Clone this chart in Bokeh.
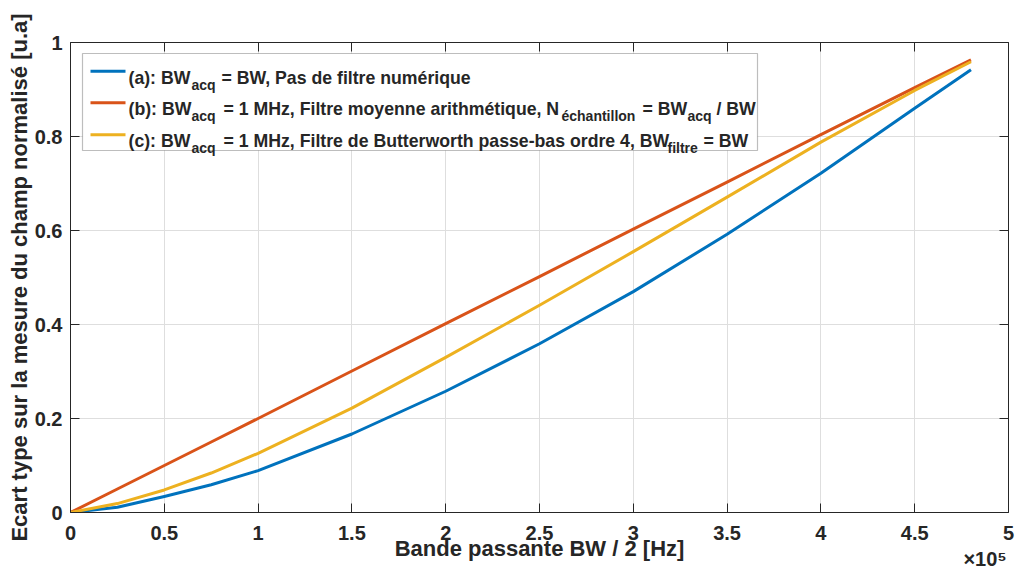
from bokeh.plotting import figure
from bokeh.models import (Range1d, LinearAxis, FixedTicker, Label, BoxAnnotation,
                          CustomJSTickFormatter)
from bokeh.embed import file_html
from bokeh.resources import INLINE

# ---------------- data ----------------
bw_hz = [0, 25000, 50000, 75000, 100000, 150000, 200000, 250000, 300000,
         350000, 400000, 450000, 480000]
std_a = [0, 0.011, 0.034, 0.059, 0.089, 0.167, 0.258, 0.359, 0.470,
         0.592, 0.722, 0.860, 0.942]
std_b = [0, 0.050, 0.100, 0.150, 0.200, 0.301, 0.402, 0.502, 0.603,
         0.703, 0.804, 0.904, 0.963]
std_c = [0, 0.019, 0.048, 0.084, 0.126, 0.222, 0.330, 0.441, 0.555,
         0.671, 0.788, 0.898, 0.959]

xtick_vals = [0, 50000, 100000, 150000, 200000, 250000, 300000, 350000,
              400000, 450000, 500000]
xtick_labels = ["0", "0.5", "1", "1.5", "2", "2.5", "3", "3.5", "4", "4.5", "5"]
ytick_vals = [0, 0.2, 0.4, 0.6, 0.8, 1.0]
ytick_labels = ["0", "0.2", "0.4", "0.6", "0.8", "1"]
x_exponent = "×10⁵"

x_label = "Bande passante BW / 2 [Hz]"
y_label = "Ecart type sur la mesure du champ normalisé [u.a]"

series_colors = ["#0072BD", "#D95319", "#EDB120"]

FONT = "Liberation Sans"
AX = "#262626"

p = figure(frame_width=938, frame_height=470,
           x_range=Range1d(0, 500000), y_range=Range1d(0, 1),
           output_backend="svg", toolbar_location=None,
           min_border_left=70, min_border_top=42, min_border_right=8,
           min_border_bottom=60)
p.outline_line_color = None
p.background_fill_color = "white"
p.border_fill_color = "white"

xt = FixedTicker(ticks=xtick_vals)
yt = FixedTicker(ticks=ytick_vals)

def style_axis(ax, labels=True):
    ax.axis_line_color = AX
    ax.axis_line_width = 1
    ax.major_tick_line_color = AX
    ax.major_tick_in = 9
    ax.major_tick_out = 0
    ax.minor_tick_line_color = None
    ax.major_label_text_font = FONT
    ax.major_label_text_font_style = "bold"
    ax.major_label_text_color = AX
    ax.major_label_text_font_size = "20px"
    ax.axis_label_text_font = FONT
    ax.axis_label_text_font_style = "bold"
    ax.axis_label_text_color = AX
    ax.axis_label_text_font_size = "22px"
    if not labels:
        ax.formatter = CustomJSTickFormatter(code="return ''")
        ax.major_label_standoff = 0

p.xaxis.ticker = xt
p.yaxis.ticker = yt
p.xaxis.major_label_overrides = {v: s for v, s in zip(xtick_vals, xtick_labels)}
p.yaxis.major_label_overrides = {v: s for v, s in zip(ytick_vals, ytick_labels)}
style_axis(p.xaxis[0])
style_axis(p.yaxis[0])
p.xaxis.major_label_standoff = 13
p.yaxis.major_label_standoff = 8
p.yaxis.axis_label = y_label
p.yaxis.axis_label_standoff = 0

# second bottom axis: carries the x-axis title and the x10^5 exponent
exp_pos = 487500
exp_axis = LinearAxis(ticker=FixedTicker(ticks=[exp_pos]),
                      major_label_overrides={exp_pos: x_exponent})
style_axis(exp_axis)
exp_axis.axis_line_color = None
exp_axis.major_tick_line_color = None
exp_axis.major_tick_in = 0
exp_axis.major_label_standoff = 5
exp_axis.axis_label = x_label
exp_axis.axis_label_standoff = -37
p.add_layout(exp_axis, "below")

top = LinearAxis(ticker=xt)
style_axis(top, labels=False)
p.add_layout(top, "above")
right = LinearAxis(ticker=yt)
style_axis(right, labels=False)
p.add_layout(right, "right")

p.xgrid.ticker = xt
p.ygrid.ticker = yt
for g in (p.xgrid[0], p.ygrid[0]):
    g.grid_line_color = "#dedede"
    g.grid_line_width = 1

for ys, c in zip([std_a, std_b, std_c], series_colors):
    p.line(bw_hz, ys, line_color=c, line_width=3, line_join="round")

# ---------------- legend (manual, with subscripts) ----------------
p.add_layout(BoxAnnotation(left=12, right=687, top=459, bottom=362,
                           left_units="screen", right_units="screen",
                           top_units="screen", bottom_units="screen",
                           fill_color="white", fill_alpha=1,
                           line_color=AX, line_width=1.2, level="annotation"))

rows = [
    [("(a): BW", 58, 0), ("acq", 121, 1), ("= BW, Pas de filtre numérique", 151, 0)],
    [("(b): BW", 58, 0), ("acq", 121, 1),
     ("= 1 MHz, Filtre moyenne arithmétique, N", 153, 0),
     ("échantillon", 491, 1), ("= BW", 572, 0), ("acq", 617, 1), ("/ BW", 646, 0)],
    [("(c): BW", 58, 0), ("acq", 121, 1),
     ("= 1 MHz, Filtre de Butterworth passe-bas ordre 4, BW", 153, 0),
     ("filtre", 597, 1), ("= BW", 633, 0)],
]
row_mid = [441.3, 409.7, 377.7]

for pieces, ym, c in zip(rows, row_mid, series_colors):
    p.add_layout(BoxAnnotation(left=20, right=55, top=ym + 1.5, bottom=ym - 1.5,
                               left_units="screen", right_units="screen",
                               top_units="screen", bottom_units="screen",
                               fill_color=c, fill_alpha=1, line_color=None))
    base = ym - 6.3
    for txt, xs, sub in pieces:
        p.add_layout(Label(x=xs, y=base - (7.3 if sub else 0),
                           x_units="screen", y_units="screen", text=txt,
                           text_font=FONT, text_font_style="bold",
                           text_font_size="14px" if sub else "17.7px",
                           text_color=AX, text_align="left",
                           text_baseline="alphabetic"))

open("out.html", "w").write(file_html(p, INLINE))
